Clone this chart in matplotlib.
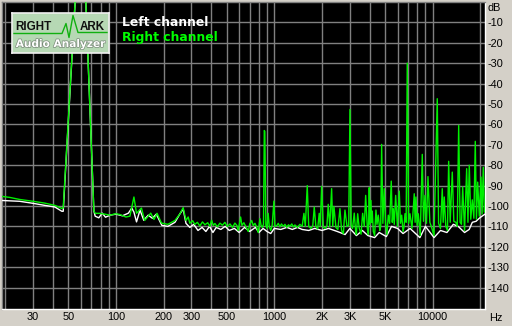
import matplotlib
matplotlib.use("Agg")
import matplotlib.pyplot as plt
import matplotlib.patheffects as pe

# ---------------- data ----------------
green_freq = [19.1, 21.4, 24.7, 30, 35.6, 41.2, 45.6, 46.5, 60.7, 72.6, 74, 79, 85, 91.6, 100, 106,
              115.7, 122.6, 130, 135, 145, 152, 166, 174, 182, 194, 213, 236, 253, 266, 277, 286,
              293, 305, 315, 327, 339, 352, 365, 380, 392, 402, 412, 422, 437, 454, 470, 488, 505,
              525, 545, 564, 580, 592, 602, 613, 625, 643, 660, 685, 700, 720, 737, 755, 775, 792,
              812, 825, 840, 855, 865, 872, 885, 900, 915, 930, 950, 970, 995, 1010, 1040, 1060,
              1086, 1110, 1140, 1168, 1200, 1230, 1256, 1290, 1320, 1350, 1400, 1452, 1500, 1539,
              1570, 1615, 1650, 1700, 1750, 1788, 1830, 1880, 1922, 1950, 1991, 2040, 2100, 2150,
              2191, 2240, 2302, 2340, 2380, 2450, 2520, 2598, 2660, 2730, 2794, 2880, 2950, 3005,
              3060, 3120, 3198, 3260, 3300, 3361, 3440, 3530, 3614, 3700, 3776, 3870, 3930, 3978,
              4020, 4077, 4110, 4155, 4220, 4300, 4385, 4450, 4533, 4640, 4700, 4763, 4850, 4948,
              5050, 5140, 5244, 5350, 5477, 5560, 5639, 5720, 5840, 5990, 6153, 6260, 6372, 6500,
              6600, 6686, 6800, 6913, 7050, 7189, 7400, 7651, 7750, 7847, 7980, 8113, 8350, 8598,
              8750, 8943, 9140, 9340, 9600, 9800, 10200, 10691, 10900, 11200, 11497, 11650, 11837,
              12100, 12400, 12619, 12900, 13301, 13600, 14000, 14300, 14596, 14900, 15200, 15467,
              15900, 16395, 16700, 17025, 17400, 17790, 18200, 18580, 18900, 19243, 19700, 20184,
              20500, 20875, 21200, 21400]
green_db = [-95.3, -95.8, -96.8, -97.7, -98.6, -99.7, -101.2, -101, 55, -102.3, -103.6, -103.6, -104,
            -104.5, -103.8, -104.2, -105.4, -105, -95.6, -103.6, -101, -107.1, -103.5, -106.6, -103.6,
            -108.4, -109, -107.1, -104, -100.8, -107.1, -105.4, -108.5, -107.2, -109, -108, -109.8,
            -107.8, -109.2, -108.2, -110, -107, -109.5, -108.6, -110.2, -108.4, -109.4, -108, -110,
            -108.8, -110.5, -108.4, -109.5, -112, -109, -105.4, -109.5, -108.2, -110, -112.5, -108.8,
            -107.1, -109.6, -108.5, -110.4, -113, -106.2, -109.5, -110.5, -109, -63, -63.5, -109.5,
            -111, -103.6, -110, -112, -109.5, -97.6, -110, -109.5, -108.5, -110.2, -108.8, -110,
            -109, -110.5, -109.2, -110, -108.8, -110.3, -109.3, -110.5, -109, -110, -103.6, -110,
            -90, -110, -111, -109.8, -100.5, -110, -111.2, -103.6, -110, -90.4, -110.5, -111,
            -109.8, -99.2, -110.3, -91.5, -110, -100.2, -110.5, -111.5, -101.3, -112, -113.6, -102,
            -110, -109.5, -52.7, -109.5, -111, -103.5, -112, -114, -103.8, -111, -113.8, -103.6,
            -110, -94.8, -111, -114, -91, -109, -97.3, -108, -102.5, -112.5, -114.5, -102, -109,
            -104.5, -112, -110, -69.8, -108.5, -91.5, -109, -114, -104.5, -108.5, -87.8, -108,
            -101.3, -109, -94.8, -110, -92.7, -108.5, -104.5, -112.5, -110, -103.8, -108, -30,
            -108.5, -103.8, -111, -94, -108, -95.6, -109.5, -103.8, -114.5, -74.7, -107.5, -94.8,
            -108.5, -85.6, -108, -110, -114.5, -47.4, -108.5, -111, -91.5, -108, -95.6, -110, -112,
            -78.1, -108, -83.4, -107.5, -108, -110, -60.5, -108, -109, -90.7, -112, -81.7, -108,
            -80, -106.5, -97, -106, -68.3, -106.5, -88.3, -105, -85.8, -104, -81, -103, -103]

white_freq = [19.1, 24.7, 30, 35.6, 41.2, 45.6, 46.5, 60.7, 72.6, 74, 78, 82, 86, 92, 100, 110, 120,
              126, 130, 135, 142, 150, 160, 170, 180, 195, 213, 236, 253, 266, 277, 293, 310, 330,
              350, 370, 390, 410, 430, 460, 490, 520, 560, 600, 650, 700, 760, 800, 850, 900, 950,
              1000, 1100, 1200, 1300, 1400, 1500, 1650, 1800, 2000, 2200, 2500, 2800, 3000, 3300,
              3600, 3900, 4300, 4600, 5100, 5500, 6000, 6500, 7200, 8300, 9000, 10200, 11200,
              12300, 13500, 14500, 15900, 17000, 17800, 18800, 19700, 20500, 21400]
white_db = [-97.3, -97.7, -98.7, -99.7, -100.5, -102.6, -102.6, 55, -102.3, -105, -105.8, -103.5,
            -105.5, -104.5, -104, -104.8, -103.5, -101, -103, -107.8, -102, -107, -104.5, -106,
            -104, -109.5, -110, -108, -104, -101.5, -108.5, -110.5, -109, -112, -110.5, -112.5,
            -110, -113, -110.5, -111.5, -110, -112, -111, -113, -110.5, -112.5, -110.5, -113,
            -111, -112.5, -113.5, -111, -111.5, -110.5, -111.5, -110.5, -111.5, -112, -111, -112,
            -111, -112.5, -114, -111, -114.5, -112, -114.5, -115.5, -113, -115, -110, -111,
            -113.5, -111, -115.5, -110, -115.5, -112, -113, -109, -110, -113, -111.5, -108,
            -107.5, -106, -105, -104]

x_grid = [20, 30, 40, 50, 60, 70, 80, 90, 100, 200, 300, 400, 500, 600, 700, 800, 900,
          1000, 2000, 3000, 4000, 5000, 6000, 7000, 8000, 9000, 10000, 20000]
x_ticks = [30, 50, 100, 200, 300, 500, 1000, 2000, 3000, 5000, 10000]
x_labels = ["30", "50", "100", "200", "300", "500", "1000", "2K", "3K", "5K", "10000"]
y_ticks = [-10, -20, -30, -40, -50, -60, -70, -80, -90, -100, -110, -120, -130, -140]
y_labels = ["-10", "-20", "-30", "-40", "-50", "-60", "-70", "-80", "-90", "-100",
            "-110", "-120", "-130", "-140"]

# ---------------- figure ----------------
W, H = 512, 326
BG = "#d4d0c8"
fig = plt.figure(figsize=(W / 100, H / 100), dpi=100, facecolor=BG)
ax = fig.add_axes([2 / W, 1 - 309 / H, 483 / W, 307 / H])
ax.set_facecolor("black")
ax.set_xscale("log")
ax.set_xlim(19.1, 21400)
ax.set_ylim(-150.5, 0)

ax.set_xticks(x_grid, minor=True)
ax.set_xticks(x_ticks)
ax.set_xticklabels(x_labels)
ax.set_yticks(y_ticks)
ax.set_yticklabels(y_labels)
ax.yaxis.tick_right()
ax.tick_params(which="both", length=0)
ax.tick_params(axis="x", pad=2.5, labelsize=7.8)
ax.tick_params(axis="y", pad=2, labelsize=7.8)
for lab in ax.get_xticklabels() + ax.get_yticklabels():
    lab.set_fontfamily(["Liberation Sans", "DejaVu Sans"])
    lab.set_color("black")

ax.grid(which="minor", axis="x", color="#808080", lw=1.0)
ax.grid(which="major", axis="x", color="#808080", lw=1.0)
ax.grid(which="major", axis="y", color="#808080", lw=1.0)
ax.set_axisbelow(True)

for s in ["left", "top"]:
    ax.spines[s].set_color("#808080")
for s in ["right", "bottom"]:
    ax.spines[s].set_color("white")
for s in ax.spines.values():
    s.set_linewidth(1.0)

ax.plot(white_freq, white_db, color="white", lw=1.0, zorder=3)
ax.plot(green_freq, green_db, color="#00f000", lw=1.0, zorder=4)

fig.text(487 / W, 1 - 8 / H, "dB", ha="left", va="center", fontsize=7.8,
         family=["Liberation Sans", "DejaVu Sans"])
fig.text(489 / W, 1 - 318 / H, "Hz", ha="left", va="center", fontsize=7.8,
         family=["Liberation Sans", "DejaVu Sans"])

# legend texts
fig.text(122 / W, 1 - 22.5 / H, "Left channel", color="white", fontsize=8.9,
         fontweight="bold", ha="left", va="center", family=["DejaVu Sans"])
fig.text(122 / W, 1 - 37.5 / H, "Right channel", color="#00ff00", fontsize=8.9,
         fontweight="bold", ha="left", va="center", family=["DejaVu Sans"])

# logo
lg = fig.add_axes([12 / W, 1 - 52.5 / H, 97 / W, 40 / H])
lg.set_xlim(0, 97)
lg.set_ylim(40, 0)
lg.set_xticks([])
lg.set_yticks([])
lg.set_facecolor("#b6d8b4")
for s in lg.spines.values():
    s.set_color("#f0f0f0")
    s.set_linewidth(1.2)
lg.plot([2, 50, 54, 57, 61, 66, 95], [21, 21, 11, 25, 3, 20, 20], color="#10b010", lw=1.0)
lg.text(3.5, 14.0, "RIGHT", fontsize=8.4, fontweight="bold", color="#101010",
        ha="left", va="center", family=["Liberation Sans"])
lg.text(68.0, 14.0, "ARK", fontsize=8.4, fontweight="bold", color="#101010",
        ha="left", va="center", family=["Liberation Sans"])
lg.text(48.5, 31.5, "Audio Analyzer", fontsize=7.6, fontweight="bold", color="white",
        ha="center", va="center", family=["DejaVu Sans"],
        path_effects=[pe.withStroke(linewidth=1.0, foreground="#7a8a7a")])

fig.savefig("out.png", dpi=100, facecolor=BG)
